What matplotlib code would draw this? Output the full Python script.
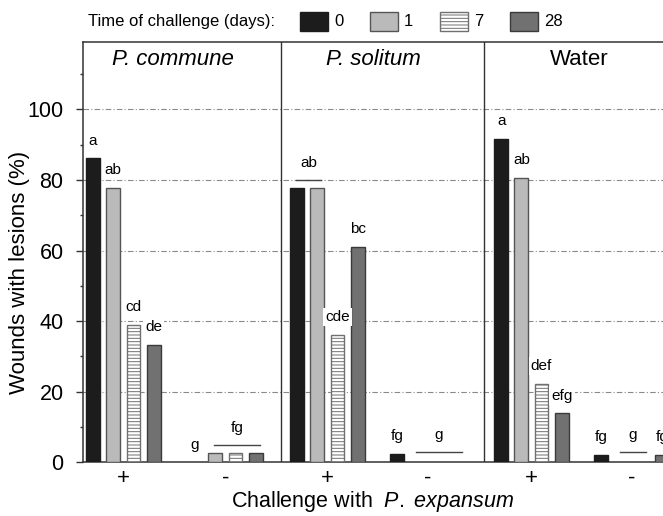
import matplotlib.pyplot as plt
from matplotlib.patches import Rectangle

plt.rcParams['font.family'] = ['Liberation Sans', 'DejaVu Sans']
plt.rcParams['mathtext.fontset'] = 'custom'
plt.rcParams['mathtext.rm'] = 'Liberation Sans'
plt.rcParams['mathtext.it'] = 'Liberation Sans:italic'
plt.rcParams['hatch.linewidth'] = 0.7

days = ['0', '1', '7', '28']
panels = ['P. commune', 'P. solitum', 'Water']
signs = ['+', '-', '+', '-', '+', '-']

# wounds with lesions (%), one value per time of challenge (0, 1, 7, 28 days)
commune_plus = [86.1, 77.8, 38.9, 33.3]
commune_minus = [0, 2.7, 2.7, 2.7]
solitum_plus = [77.8, 77.8, 36.1, 61.1]
solitum_minus = [2.4, 0, 0, 0]
water_plus = [91.7, 80.6, 22.2, 13.9]
water_minus = [2.2, 0, 0, 2.2]

# letters over single bars (None -> shared letter, drawn with a line)
commune_plus_letters = ['a', 'ab', 'cd', 'de']
commune_minus_letters = ['g', None, None, None]
solitum_plus_letters = [None, None, 'cde', 'bc']
solitum_minus_letters = ['fg', None, None, None]
water_plus_letters = ['a', 'ab', 'def', 'efg']
water_minus_letters = ['fg', None, None, 'fg']

# shared letters: (group, first bar, last bar, letter)
shared_letters = [(1, 1, 3, 'fg'), (2, 0, 1, 'ab'), (3, 1, 3, 'g'), (5, 1, 2, 'g')]

groups = [commune_plus, commune_minus, solitum_plus, solitum_minus, water_plus, water_minus]
letters = [commune_plus_letters, commune_minus_letters, solitum_plus_letters,
           solitum_minus_letters, water_plus_letters, water_minus_letters]

# bar look per day
styles = [
    dict(facecolor='#1c1c1c', edgecolor='#1c1c1c'),
    dict(facecolor='#bababa', edgecolor='#555555'),
    dict(facecolor='white', edgecolor='#707070', hatch='-----'),
    dict(facecolor='#717171', edgecolor='#3a3a3a'),
]

# layout (data units): first bar of each group, panel separators
starts = [0.5, 5.55, 10.6, 15.55, 20.7, 25.65]
separators = [9.8, 19.85]
bw = 0.68

fig = plt.figure(figsize=(6.63, 5.16), dpi=100)
W, H = 663.0, 516.0
ax = fig.add_axes([83 / W, 1 - 462.3 / H, 606 / W, 420.3 / H])

box = dict(facecolor='white', edgecolor='none', pad=1.5)
for g, vals in enumerate(groups):
    xs = [starts[g] + i for i in range(len(vals))]
    for i, (x, v) in enumerate(zip(xs, vals)):
        if v > 0:
            ax.bar(x, v, width=bw, linewidth=1, zorder=3, **styles[i])
        lab = letters[g][i]
        if lab:
            ax.text(x, v + 5, lab, ha='center', va='center', fontsize=11,
                    bbox=box, zorder=4)

for g, i0, i1, lab in shared_letters:
    top = max(groups[g][i0:i1 + 1])
    ly = max(top + 2.2, 3)
    x0 = starts[g] + i0 - 0.05
    x1 = starts[g] + i1 + 0.2
    ax.plot([x0, x1], [ly, ly], color='#444444', lw=1, zorder=4)
    ax.text((x0 + x1) / 2, ly + 4.7, lab, ha='center', va='center', fontsize=11,
            bbox=box, zorder=4)

for s in separators:
    ax.axvline(s, color='#333333', lw=1, zorder=2)

for y in range(20, 101, 20):
    ax.axhline(y, color='#8a8a8a', lw=0.8, ls=(0, (5, 2, 1, 2)), zorder=1)

# panel titles
pstarts = [0] + separators
pends = separators + [30.2]
for k, name in enumerate(panels):
    cx = (pstarts[k] + pends[k]) / 2 - 0.45
    style = 'normal' if name == 'Water' else 'italic'
    ax.text(cx, 114.2, name, ha='center', va='center', fontsize=16, style=style)

ax.set_xlim(0, 30)
ax.set_ylim(0, 119.1)
ax.set_xticks([st + 1.5 for st in starts])
ax.set_xticklabels(signs, fontsize=16)
ax.tick_params(axis='x', length=0, pad=4)
ax.set_yticks(range(0, 101, 20))
ax.set_yticks(range(10, 111, 20), minor=True)
ax.tick_params(axis='y', which='major', length=5, width=1, pad=9, labelsize=15.5, color='#333333')
ax.tick_params(axis='y', which='minor', length=2, width=1, color='#333333')
for side in ['left', 'top', 'bottom']:
    ax.spines[side].set_color('#333333')
    ax.spines[side].set_linewidth(1.1)
ax.spines['right'].set_visible(False)

fig.text(19.5 / W, 1 - 272 / H, 'Wounds with lesions (%)', rotation=90,
         ha='center', va='center', fontsize=16)
fig.text(372.5 / W, 1 - 501 / H, r'Challenge with  $\mathit{P.\ expansum}$',
         ha='center', va='center', fontsize=15.5)

# legend row
fig.text(88 / W, 1 - 21.5 / H, 'Time of challenge (days):', ha='left', va='center', fontsize=12)
for i, d in enumerate(days):
    x0 = 300 + 70 * i
    fig.add_artist(Rectangle((x0 / W, 1 - 31 / H), 28 / W, 19 / H,
                             transform=fig.transFigure, linewidth=1, **styles[i]))
    fig.text((x0 + 34) / W, 1 - 21.5 / H, d, ha='left', va='center', fontsize=12)

fig.savefig('out.png', dpi=100)
